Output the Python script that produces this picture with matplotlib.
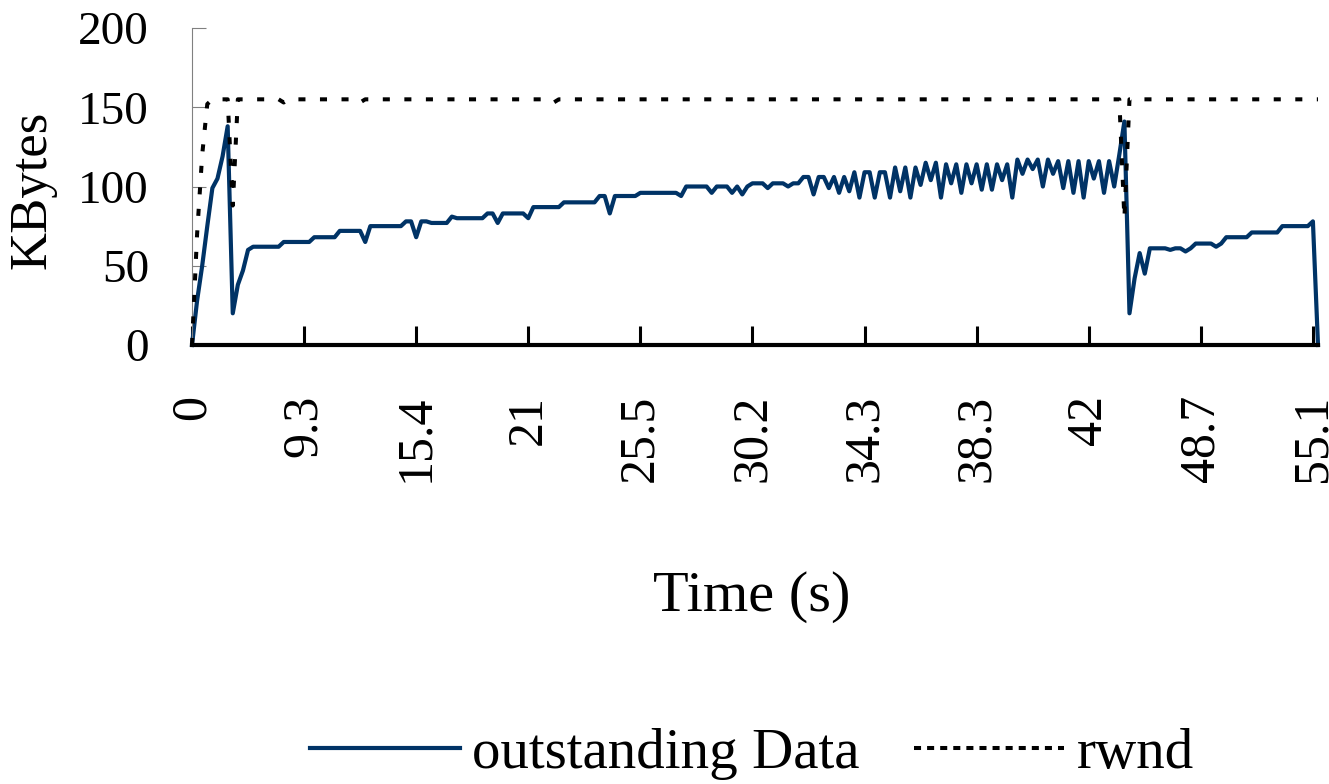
import numpy as np
import matplotlib as mpl

mpl.use('Agg')
import matplotlib.pyplot as plt
import matplotlib.transforms as mtransforms
from matplotlib.lines import Line2D

# category labels of the time axis, one every 22 samples
time_labels = ['0', '9.3', '15.4', '21', '25.5', '30.2', '34.3', '38.3', '42', '48.7', '55.1']
label_step = 22

# outstanding data (KBytes), one value per sample
outstanding = [
    0, 28, 50, 75, 99, 105, 119, 138, 20, 38, 47, 60, 62, 62,
    62, 62, 62, 62, 65, 65, 65, 65, 65, 65, 68, 68, 68, 68,
    68, 72, 72, 72, 72, 72, 65, 75, 75, 75, 75, 75, 75, 75,
    78, 78, 68, 78, 78, 77, 77, 77, 77, 81, 80, 80, 80, 80,
    80, 80, 83, 83, 77, 83, 83, 83, 83, 83, 80, 87, 87, 87,
    87, 87, 87, 90, 90, 90, 90, 90, 90, 90, 94, 94, 83, 94,
    94, 94, 94, 94, 96, 96, 96, 96, 96, 96, 96, 96, 94, 100,
    100, 100, 100, 100, 96, 100, 100, 100, 96, 100, 95, 100, 102, 102,
    102, 99, 102, 102, 102, 100, 102, 102, 106, 106, 95, 106, 106, 99,
    106, 96, 106, 97, 109, 93, 109, 109, 93, 109, 109, 93, 112, 97,
    112, 93, 112, 101, 115, 104, 115, 93, 114, 102, 114, 96, 114, 102,
    114, 98, 114, 98, 114, 104, 114, 93, 117, 108, 117, 111, 117, 100,
    117, 108, 116, 99, 116, 96, 116, 93, 116, 105, 116, 96, 116, 100,
    120, 141, 20, 42, 58, 45, 61, 61, 61, 61, 60, 61, 61, 59,
    61, 64, 64, 64, 64, 62, 64, 68, 68, 68, 68, 68, 71, 71,
    71, 71, 71, 71, 75, 75, 75, 75, 75, 75, 78, 0,
]

# receive window (KBytes)
rwnd = [
    0, 70, 120, 152, 155, 155, 155, 155, 88, 155, 155, 155, 155, 155,
    155, 155, 155, 155, 153, 155, 155, 155, 155, 155, 155, 155, 155, 155,
    155, 155, 155, 155, 155, 153, 155, 155, 155, 155, 155, 155, 155, 155,
    155, 155, 155, 155, 155, 155, 155, 155, 155, 155, 155, 155, 155, 155,
    155, 155, 155, 155, 155, 155, 155, 155, 155, 155, 155, 155, 155, 155,
    155, 153, 155, 155, 155, 155, 155, 155, 155, 155, 155, 155, 155, 155,
    155, 155, 155, 155, 155, 155, 155, 155, 155, 155, 155, 155, 155, 155,
    155, 155, 155, 155, 155, 155, 155, 155, 155, 155, 155, 155, 155, 155,
    155, 155, 155, 155, 155, 155, 155, 155, 155, 155, 155, 155, 155, 155,
    155, 155, 155, 155, 155, 155, 155, 155, 155, 155, 155, 155, 155, 155,
    155, 155, 155, 155, 155, 155, 155, 155, 155, 155, 155, 155, 155, 155,
    155, 155, 155, 155, 155, 155, 155, 155, 155, 155, 155, 155, 155, 155,
    155, 155, 155, 155, 155, 155, 155, 155, 155, 155, 155, 155, 155, 155,
    155, 80, 155, 155, 155, 155, 155, 155, 155, 155, 155, 155, 155, 155,
    155, 155, 155, 155, 155, 155, 155, 155, 155, 155, 155, 155, 155, 155,
    155, 155, 155, 155, 155, 155, 155, 155, 155, 155, 155, 155,
]

plt.rcParams['font.family'] = ['Liberation Serif', 'DejaVu Serif']

W, H = 1329, 784
fig = plt.figure(figsize=(W / 100, H / 100), dpi=100)
ax = fig.add_axes([192 / W, 1 - 345 / H, (1318 - 192) / W, (345 - 28) / H])

x = np.arange(len(outstanding))
ax.plot(x, outstanding, color='#003366', lw=3.0, zorder=2, clip_on=False)
ax.plot(x, rwnd, color='black', lw=2.9, dashes=(1.75, 3.6), zorder=3, clip_on=False)

ax.set_xlim(0, len(outstanding) - 1)
ax.set_ylim(0, 200)
ax.set_yticks([0, 50, 100, 150, 200])
ax.set_xticks(np.arange(len(time_labels)) * label_step)
ax.set_xticklabels(time_labels, rotation=90, va='top', ha='center')

# labels sit a little left of their ticks in the original
shift = mtransforms.ScaledTranslation(-5 / 100, 0, fig.dpi_scale_trans)
for lab in ax.get_xticklabels():
    lab.set_transform(lab.get_transform() + shift)

for s in ['top', 'right']:
    ax.spines[s].set_visible(False)
ax.spines['left'].set_color('#808080')
ax.spines['left'].set_linewidth(0.8)
ax.spines['bottom'].set_color('black')
ax.spines['bottom'].set_linewidth(3)
ax.spines['bottom'].set_zorder(4)

ax.tick_params(axis='y', direction='in', length=10, width=0.8, color='#808080',
               labelsize=34, pad=31)
ax.tick_params(axis='x', direction='in', length=14, width=2.2, color='black',
               labelsize=36, pad=36)

fig.text(752 / W, 1 - 597 / H, 'Time (s)', fontsize=42, ha='center', va='center')
fig.text(33 / W, 1 - 190 / H, 'KBytes', fontsize=38, ha='center', va='center',
         rotation=90)

handles = [Line2D([], [], color='#003366', lw=3),
           Line2D([], [], color='black', lw=2.9, dashes=(1.75, 1.5))]
fig.legend(handles, ['outstanding Data', 'rwnd'], loc='center',
           bbox_to_anchor=(752 / W, 1 - 754 / H), ncol=2, frameon=False,
           fontsize=41, handlelength=2.63, handletextpad=0.22,
           columnspacing=0.96, borderaxespad=0, borderpad=0)

plt.savefig('out.png', dpi=100)
